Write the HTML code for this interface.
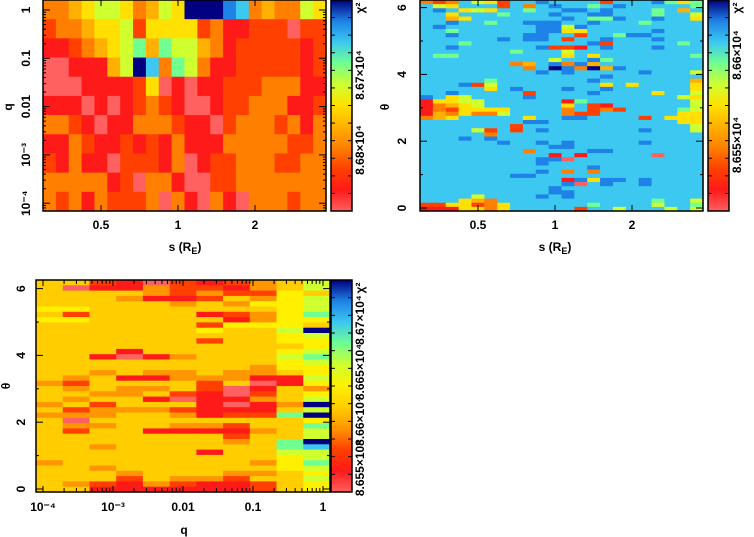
<!DOCTYPE html>
<html><head><meta charset="utf-8"><style>
html,body{margin:0;padding:0;background:#fff}
svg{display:block}
text{font-family:"Liberation Sans",sans-serif;font-weight:bold;font-size:12px;fill:#000}
</style></head><body>
<svg id="fig" width="754" height="537" viewBox="0 0 754 537"></svg>
<script>
// ---- data (color levels 0..10, A=10) ----
const p1Rows=["33456653465AAA98343365","2334556255552311222022","1123456747664312222212","0011146A837631122222121".slice(0,22),"0001111250101122233311","1110101232100122333112","3321011333211023332313","1132112121311133333223","2131102221301223332233","3333312033100223333333","3231322230310310333233"];
const p2Rows=["3238652889888828889757","8658882838988789888887","8985658878899898887848","8858887888988998887886","8845888888898779889885","8898878899988988878888","8988888889969888888888","8878888889955888889888","8898888899882887998888","8888889899828898889888","8887888888888928888878","8898888889221898889888","8888888788868888888888","8778888888858588888887","8888888888688978888888","8888888348939488888888","8888888838A93A49888888","8888888889898888898886","8888888888888898888888","8888878888888988888884","8889268888888858588885","8888858988898898888885","8898888828888988885886","9856888898888888888865","1556688888817888888886","1345688888858218888886","1325555888838232888876","1435336888832288888855","3458888858899888828555","8888888899888888888855","8888888288888888888886","8888628289888888898886","8888838888888888888888","8889898888888888888888","8888889889898888898888","8888888888998888888888","8888888838888998888888","8888888888181888880888","8888888889908888888888","8888888889888888888888","8888888888888988888888","8888888889838388888888","8888888998888888888888","8888888888819599898888","8888888888890898898888","8888888888988888888888","8888888888998888888888","8888688889898888888888","8885438888888888887886","2255235888888788886887","1115535888882886888686"];
const p3Rows=["44210212346","40113221346","44443232254","44431124356","44444343556","55444444456","42444412357","55444441355","44444425554","4444445446A","44444444456","44444424455","44444444445","44414444456","44101344467","44444444456","44444444355","44343343345","43411333116","32444424015","43433420143","44334210245","43441011346","3424441013A","42333211146","3334431227A","40444444445","43344332447","42441111346","44444442446","4444444347A","44344444478","44444414466","44444444456","34444444357","44344444456","44434443345","44424332446","43213211245","44111111245"];
const p1YTicks=[1,0.1,0.01,0.001,0.0001];
const p1YLabels=["1","0.1","0.01","10\u207B\u00B3","10\u207B\u2074"];
const sTicks=[0.5,1,2];
const sLabels=["0.5","1","2"];
const thTicks=[0,2,4,6];
const p3XTicks=[1e-4,1e-3,0.01,0.1,1];
const p3XLabels=["10\u207B\u2074","10\u207B\u00B3","0.01","0.1","1"];

const NS="http://www.w3.org/2000/svg";
const svg=document.getElementById('fig');
function el(tag,attrs,parent){const e=document.createElementNS(NS,tag);for(const k in attrs)e.setAttribute(k,attrs[k]);(parent||svg).appendChild(e);return e;}
const stopsA=[[255,96,96],[255,26,26],[255,64,0],[255,128,0],[255,176,0],[255,224,0],[208,255,48],[112,255,144],[60,200,240],[30,130,230],[0,0,128]];
const stops3=[[255,96,96],[255,26,26],[255,64,0],[255,150,0],[255,205,0],[255,240,0],[208,255,48],[112,255,144],[60,200,240],[30,130,230],[0,0,128]];
function col(ch,st){st=st||stopsA;const v=ch==='A'?10:parseInt(ch,16);const c=st[Math.max(0,Math.min(10,v))];return `rgb(${c[0]},${c[1]},${c[2]})`;}

const log2=Math.log2, log10=Math.log10;
const sx1=v=>178+77*log2(v), sxP2=v=>555+77*log2(v);
const sy1=q=>10-48.3*log10(q);
const syTh2=t=>208-33.4*t;
const sx3=q=>43+70*(log10(q)+4);
const syTh3=t=>489-33.4*t;

function grid(rows,x0,x1,y0,y1,name,st){
  const g=el('g',{});
  
  
  const nr=rows.length,nc=rows[0].length,cw=(x1-x0)/nc,rh=(y1-y0)/nr;
  rows.forEach((r,i)=>{for(let j=0;j<nc;j++){const c=el('rect',{x:(x0+j*cw).toFixed(2),y:(y0+i*rh).toFixed(2),width:(cw+0.6).toFixed(2),height:(rh+0.6).toFixed(2),fill:col(r[j]||'8',st)},g);
    
    }});
}
function frame(x0,y0,x1,y1,name){const r=el('rect',{x:x0,y:y0,width:x1-x0,height:y1-y0,fill:'none',stroke:'#000','stroke-width':1.5});
  
  }
function rtext(x,y,s,name,size){const t=el('text',{x:x,y:y,'text-anchor':'middle',transform:`rotate(-90 ${x} ${y})`,'font-size':size||12});t.textContent=s;
  
  return t;}
function htext(x,y,s,name){const t=el('text',{x:x,y:y,'text-anchor':'middle'});t.textContent=s;
  
  return t;}
function sTitle(x,y){const t=el('text',{x:x,y:y,'text-anchor':'middle'});t.textContent='s (R';
  
  
  const ts=el('tspan',{'font-size':9,dy:3},t);ts.textContent='E';
  const ts2=el('tspan',{dy:-3},t);ts2.textContent=')';}
function colorbar(x,y0,y1,labels,name,st,fs){
  const id=name+'g';const d=el('defs',{});const lg=el('linearGradient',{id:id,x1:0,y1:0,x2:0,y2:1},d);
  for(let i=0;i<=10;i++){el('stop',{offset:(i/10),'stop-color':col(String(10-i).replace('10','A'),st)},lg);}
  const r=el('rect',{x:x,y:y0,width:21,height:y1-y0,fill:`url(#${id})`,stroke:'#000','stroke-width':1.5});
  
  
  for(let k=1;k<12;k++){const yy=y0+(y1-y0)*k/12;el('line',{x1:x,x2:x+4,y1:yy,y2:yy,stroke:'#000'});el('line',{x1:x+17,x2:x+21,y1:yy,y2:yy,stroke:'#000'});}
  labels.forEach(l=>rtext(x+33,l[0],l[1],'colorbar-label',fs||9));
  rtext(x+33,y0+8,'\u03C7\u00B2','colorbar-title',10);
}
function xtick(x,yb,yt){el('line',{x1:x,x2:x,y1:yb,y2:yb-6,stroke:'#000'});el('line',{x1:x,x2:x,y1:yt,y2:yt+6,stroke:'#000'});}
function ytick(y,xl,xr,len){el('line',{x1:xl,x2:xl+len,y1:y,y2:y,stroke:'#000'});el('line',{x1:xr,x2:xr-len,y1:y,y2:y,stroke:'#000'});}

// Panel 1
grid(p1Rows,43,326,0,211,'heatmap-s-q');
p1YTicks.forEach((q,i)=>{const y=sy1(q);ytick(y,43,326,7);for(let m=2;m<10;m++){const ym=sy1(q*m/10);if(ym>0&&ym<211)ytick(ym,43,326,3);} rtext(30,y,p1YLabels[i],'y-tick-label');});
sTicks.forEach((s,i)=>{xtick(sx1(s),211,0);htext(sx1(s),229,sLabels[i],'x-tick-label');});
frame(43,0,326,211,'plot-area-1');
sTitle(185,251);
rtext(12,107,'q','y-axis-title');
colorbar(331,0,211,[[150,'8.68\u00D710\u2074'],[75,'8.67\u00D710\u2074']],'colorbar-1');

// Panel 2
grid(p2Rows,420,703,0,211,'heatmap-s-theta');
thTicks.forEach(t=>{const y=syTh2(t);ytick(y,420,703,7);const ym=syTh2(t+1);if(ym>0)ytick(ym,420,703,3);rtext(406,y,String(t),'y-tick-label');});
sTicks.forEach((s,i)=>{xtick(sxP2(s),211,0);htext(sxP2(s),229,sLabels[i],'x-tick-label');});
frame(420,0,703,211,'plot-area-2');
sTitle(555,251);
rtext(389,107,'\u03B8','y-axis-title');
colorbar(708,0,211,[[145,'8.655\u00D710\u2074'],[55,'8.66\u00D710\u2074']],'colorbar-2');

// Panel 3
grid(p3Rows,36,330,280,492,'heatmap-q-theta',stops3);
thTicks.forEach(t=>{const y=syTh3(t);ytick(y,36,330,7);const ym=syTh3(t+1);if(ym>280)ytick(ym,36,330,3);rtext(25,y,String(t),'y-tick-label');});
p3XTicks.forEach((q,i)=>{const x=sx3(q);xtick(x,492,280);for(let m=2;m<10;m++){const xm=sx3(q*m);if(xm<330){el('line',{x1:xm,x2:xm,y1:492,y2:488,stroke:'#000'});el('line',{x1:xm,x2:xm,y1:280,y2:284,stroke:'#000'});}}htext(x,511,p3XLabels[i],'x-tick-label');});
frame(36,280,330,492,'plot-area-3');
htext(184,534,'q','x-axis-title');
rtext(10,386,'\u03B8','y-axis-title');
colorbar(331,280,492,[[468,'8.655\u00D710\u2074'],[421,'8.66\u00D710\u2074'],[372,'8.665\u00D710\u2074'],[320,'8.67\u00D710\u2074']],'colorbar-3',stops3,7.5);
</script>
</body></html>
